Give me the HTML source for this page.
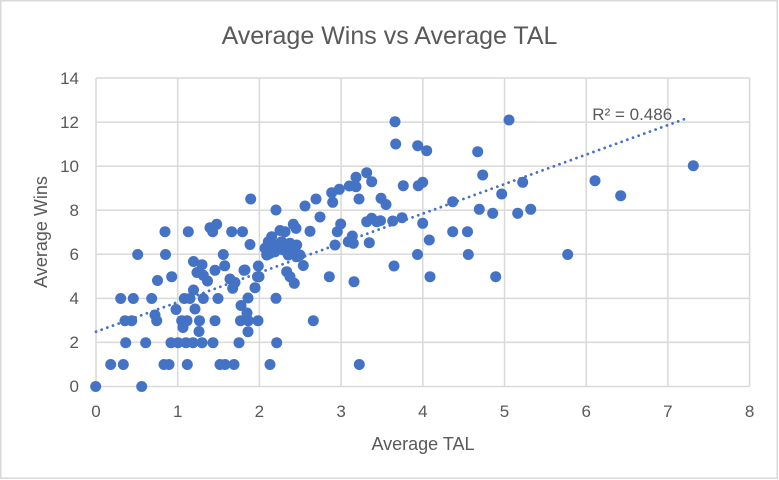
<!DOCTYPE html>
<html><head><meta charset="utf-8"><style>
html,body{margin:0;padding:0;background:#fff;}
svg{display:block;}
text{font-family:"Liberation Sans",sans-serif;fill:#595959;}
</style></head><body>
<svg width="779" height="480" viewBox="0 0 779 480" xmlns="http://www.w3.org/2000/svg">
<rect x="0.75" y="0.75" width="776.5" height="477.5" fill="#fff" stroke="#d9d9d9" stroke-width="1.5"/>
<text x="389.5" y="44" font-size="25" text-anchor="middle">Average Wins vs Average TAL</text>
<g stroke="#d9d9d9" stroke-width="1.5">
<line x1="96" y1="78" x2="96" y2="386.5"/>
<line x1="177.7" y1="78" x2="177.7" y2="386.5"/>
<line x1="259.4" y1="78" x2="259.4" y2="386.5"/>
<line x1="341.1" y1="78" x2="341.1" y2="386.5"/>
<line x1="422.8" y1="78" x2="422.8" y2="386.5"/>
<line x1="504.5" y1="78" x2="504.5" y2="386.5"/>
<line x1="586.2" y1="78" x2="586.2" y2="386.5"/>
<line x1="667.9" y1="78" x2="667.9" y2="386.5"/>
<line x1="749.6" y1="78" x2="749.6" y2="386.5"/>
<line x1="96" y1="78" x2="749.6" y2="78"/>
<line x1="96" y1="122.1" x2="749.6" y2="122.1"/>
<line x1="96" y1="166.1" x2="749.6" y2="166.1"/>
<line x1="96" y1="210.2" x2="749.6" y2="210.2"/>
<line x1="96" y1="254.3" x2="749.6" y2="254.3"/>
<line x1="96" y1="298.4" x2="749.6" y2="298.4"/>
<line x1="96" y1="342.4" x2="749.6" y2="342.4"/>
<line x1="96" y1="386.5" x2="749.6" y2="386.5"/>
</g>
<g font-size="17" text-anchor="end">
<text x="79" y="84">14</text>
<text x="79" y="128">12</text>
<text x="79" y="172">10</text>
<text x="79" y="216">8</text>
<text x="79" y="260">6</text>
<text x="79" y="304">4</text>
<text x="79" y="348">2</text>
<text x="79" y="392">0</text>
</g>
<g font-size="17" text-anchor="middle">
<text x="96" y="417">0</text>
<text x="177.7" y="417">1</text>
<text x="259.4" y="417">2</text>
<text x="341.1" y="417">3</text>
<text x="422.8" y="417">4</text>
<text x="504.5" y="417">5</text>
<text x="586.2" y="417">6</text>
<text x="667.9" y="417">7</text>
<text x="749.6" y="417">8</text>
</g>
<text x="423" y="450" font-size="18" text-anchor="middle">Average TAL</text>
<text transform="translate(47,232) rotate(-90)" font-size="18" text-anchor="middle">Average Wins</text>
<g fill="#4472c4">
<circle cx="95.7" cy="386.5" r="5.5"/><circle cx="141.7" cy="386.5" r="5.5"/>
<circle cx="110.7" cy="364.5" r="5.5"/><circle cx="123.3" cy="364.5" r="5.5"/><circle cx="164" cy="364.5" r="5.5"/><circle cx="169" cy="364.5" r="5.5"/><circle cx="187.3" cy="364.5" r="5.5"/><circle cx="220" cy="364.5" r="5.5"/><circle cx="225" cy="364.5" r="5.5"/><circle cx="234" cy="364.5" r="5.5"/><circle cx="270" cy="364.5" r="5.5"/><circle cx="359.3" cy="364.5" r="5.5"/>
<circle cx="125.7" cy="342.7" r="5.5"/><circle cx="145.7" cy="342.7" r="5.5"/><circle cx="171" cy="342.7" r="5.5"/><circle cx="178" cy="342.7" r="5.5"/><circle cx="186" cy="342.7" r="5.5"/><circle cx="193" cy="342.7" r="5.5"/><circle cx="202" cy="342.7" r="5.5"/><circle cx="213" cy="342.7" r="5.5"/><circle cx="239" cy="342.7" r="5.5"/><circle cx="276.7" cy="342.7" r="5.5"/>
<circle cx="125" cy="320.7" r="5.5"/><circle cx="131.7" cy="320.7" r="5.5"/><circle cx="156.7" cy="320.7" r="5.5"/><circle cx="181.7" cy="320.7" r="5.5"/><circle cx="187" cy="320.7" r="5.5"/><circle cx="199.5" cy="320.7" r="5.5"/><circle cx="215" cy="320.7" r="5.5"/><circle cx="240.5" cy="320.7" r="5.5"/><circle cx="248.3" cy="320.7" r="5.5"/><circle cx="258" cy="320.7" r="5.5"/><circle cx="313.3" cy="320.7" r="5.5"/>
<circle cx="247" cy="313" r="5.5"/><circle cx="155" cy="315" r="5.5"/><circle cx="176" cy="309.5" r="5.5"/><circle cx="195" cy="309" r="5.5"/><circle cx="241" cy="305.5" r="5.5"/>
<circle cx="183" cy="327.5" r="5.5"/><circle cx="199" cy="331.5" r="5.5"/><circle cx="248" cy="331.7" r="5.5"/>
<circle cx="120.7" cy="298.5" r="5.5"/><circle cx="133.3" cy="298.5" r="5.5"/><circle cx="151.7" cy="298.5" r="5.5"/><circle cx="184.3" cy="298.5" r="5.5"/><circle cx="190" cy="298.5" r="5.5"/><circle cx="203.3" cy="298.5" r="5.5"/><circle cx="218" cy="298.5" r="5.5"/><circle cx="248" cy="298" r="5.5"/><circle cx="276" cy="298.3" r="5.5"/>
<circle cx="193.5" cy="290" r="5.5"/><circle cx="157.5" cy="280.5" r="5.5"/><circle cx="171.7" cy="276.7" r="5.5"/><circle cx="137.7" cy="254.5" r="5.5"/><circle cx="165.5" cy="254.5" r="5.5"/><circle cx="223.3" cy="254.5" r="5.5"/>
<circle cx="193.5" cy="261.5" r="5.5"/><circle cx="202" cy="264.7" r="5.5"/><circle cx="215" cy="270.3" r="5.5"/><circle cx="224.7" cy="265.8" r="5.5"/><circle cx="197" cy="272.5" r="5.5"/><circle cx="203.3" cy="275.3" r="5.5"/><circle cx="207.5" cy="281" r="5.5"/><circle cx="230" cy="279" r="5.5"/><circle cx="235" cy="282.5" r="5.5"/><circle cx="232.7" cy="288.3" r="5.5"/><circle cx="244" cy="270.3" r="5.5"/><circle cx="258.3" cy="266" r="5.5"/><circle cx="257.5" cy="276.7" r="5.5"/><circle cx="255" cy="287.7" r="5.5"/>
<circle cx="165" cy="231.7" r="5.5"/><circle cx="188.3" cy="231.7" r="5.5"/><circle cx="210" cy="227.7" r="5.5"/><circle cx="216.7" cy="224.3" r="5.5"/><circle cx="212.7" cy="231.7" r="5.5"/><circle cx="231.7" cy="231.7" r="5.5"/><circle cx="242.5" cy="231.7" r="5.5"/><circle cx="250" cy="244.5" r="5.5"/><circle cx="250.7" cy="199" r="5.5"/>
<circle cx="276" cy="210" r="5.5"/><circle cx="305" cy="206" r="5.5"/><circle cx="316" cy="199" r="5.5"/><circle cx="320" cy="217" r="5.5"/><circle cx="331.7" cy="192.7" r="5.5"/><circle cx="332.7" cy="202.3" r="5.5"/><circle cx="339.3" cy="189.3" r="5.5"/><circle cx="349.3" cy="186" r="5.5"/><circle cx="356" cy="177.3" r="5.5"/><circle cx="356" cy="186.7" r="5.5"/><circle cx="366.7" cy="172.7" r="5.5"/><circle cx="371.7" cy="181.7" r="5.5"/><circle cx="359" cy="199" r="5.5"/><circle cx="381" cy="198.3" r="5.5"/><circle cx="386" cy="204.5" r="5.5"/><circle cx="403.3" cy="185.7" r="5.5"/><circle cx="418.3" cy="185.7" r="5.5"/><circle cx="422.7" cy="182.3" r="5.5"/>
<circle cx="340.7" cy="224" r="5.5"/><circle cx="337.3" cy="231.7" r="5.5"/><circle cx="310" cy="231.3" r="5.5"/><circle cx="352.3" cy="236" r="5.5"/><circle cx="348.3" cy="241.7" r="5.5"/><circle cx="353.3" cy="243.3" r="5.5"/><circle cx="335" cy="245" r="5.5"/><circle cx="369.3" cy="242.7" r="5.5"/>
<circle cx="366.7" cy="221.7" r="5.5"/><circle cx="371.7" cy="218.3" r="5.5"/><circle cx="376.7" cy="221.7" r="5.5"/><circle cx="380.5" cy="220.7" r="5.5"/><circle cx="392.7" cy="221" r="5.5"/><circle cx="402" cy="217.7" r="5.5"/><circle cx="422.7" cy="223.3" r="5.5"/>
<circle cx="417.5" cy="254.5" r="5.5"/><circle cx="394" cy="266" r="5.5"/><circle cx="329.3" cy="276.7" r="5.5"/><circle cx="354" cy="281.7" r="5.5"/>
<circle cx="293.3" cy="224.3" r="5.5"/><circle cx="296" cy="228.3" r="5.5"/><circle cx="280" cy="230.5" r="5.5"/><circle cx="285" cy="231.7" r="5.5"/><circle cx="271.7" cy="236.7" r="5.5"/><circle cx="268.3" cy="241.7" r="5.5"/><circle cx="265" cy="248.3" r="5.5"/><circle cx="266.7" cy="255" r="5.5"/><circle cx="275" cy="245" r="5.5"/><circle cx="281.7" cy="241.7" r="5.5"/><circle cx="290" cy="243.3" r="5.5"/><circle cx="293.3" cy="248.3" r="5.5"/><circle cx="270" cy="253.3" r="5.5"/><circle cx="275" cy="251.7" r="5.5"/><circle cx="283.3" cy="250" r="5.5"/><circle cx="288.3" cy="255" r="5.5"/><circle cx="296.7" cy="256.7" r="5.5"/><circle cx="300" cy="255" r="5.5"/><circle cx="303.3" cy="265.5" r="5.5"/><circle cx="245" cy="270" r="5.5"/><circle cx="259" cy="276.7" r="5.5"/><circle cx="286.7" cy="271.7" r="5.5"/><circle cx="290" cy="276.7" r="5.5"/><circle cx="294.3" cy="283.3" r="5.5"/><circle cx="296.7" cy="245" r="5.5"/>
<circle cx="395" cy="121.7" r="5.5"/><circle cx="509" cy="120" r="5.5"/><circle cx="395.7" cy="144" r="5.5"/><circle cx="417.7" cy="145.7" r="5.5"/><circle cx="426.7" cy="150.7" r="5.5"/><circle cx="477.7" cy="151.7" r="5.5"/><circle cx="482.7" cy="175" r="5.5"/><circle cx="522.7" cy="182.3" r="5.5"/><circle cx="501.7" cy="194" r="5.5"/><circle cx="452.7" cy="201.7" r="5.5"/><circle cx="479.3" cy="209.3" r="5.5"/><circle cx="492.7" cy="213.3" r="5.5"/><circle cx="517.7" cy="213.3" r="5.5"/><circle cx="530.7" cy="209.3" r="5.5"/><circle cx="429.3" cy="240" r="5.5"/><circle cx="452.7" cy="231.7" r="5.5"/><circle cx="467.5" cy="231.7" r="5.5"/><circle cx="468.3" cy="254.5" r="5.5"/><circle cx="430" cy="276.7" r="5.5"/><circle cx="495.7" cy="276.7" r="5.5"/>
<circle cx="693.3" cy="165.7" r="5.5"/><circle cx="595" cy="180.7" r="5.5"/><circle cx="620.7" cy="195.7" r="5.5"/><circle cx="567.7" cy="254.5" r="5.5"/>
</g>
<line x1="96" y1="331.7" x2="688.3" y2="117.7" stroke="#4472c4" stroke-width="2.8" stroke-linecap="round" stroke-dasharray="0.01 6"/>
<text x="592.3" y="120" font-size="17">R² = 0.486</text>
</svg>
</body></html>
